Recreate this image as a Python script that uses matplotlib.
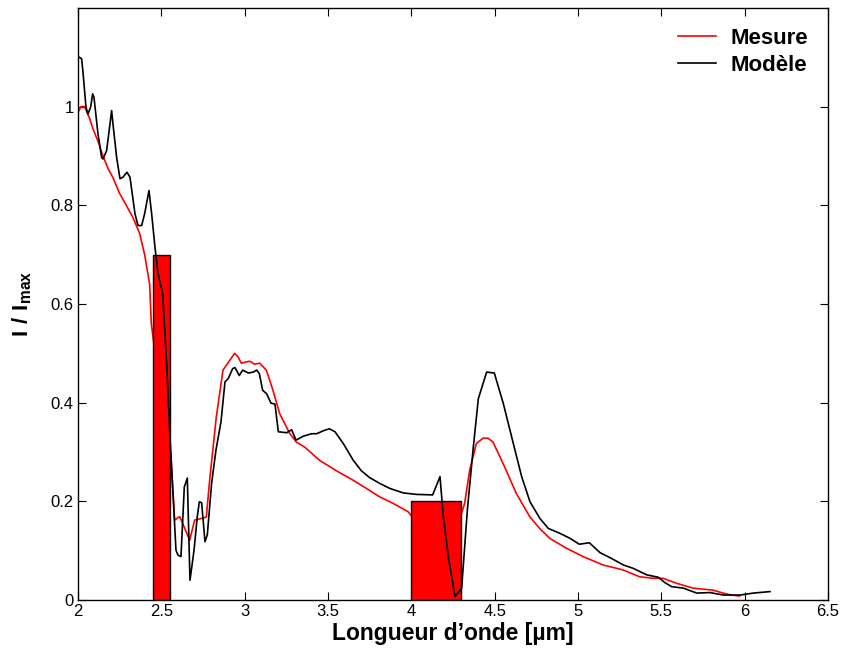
import numpy as np
import matplotlib
matplotlib.use("Agg")
import matplotlib.pyplot as plt

plt.rcParams['font.family'] = ['Liberation Sans', 'DejaVu Sans']
plt.rcParams['mathtext.fontset'] = 'custom'
plt.rcParams['mathtext.rm'] = 'Liberation Sans'
plt.rcParams['mathtext.bf'] = 'Liberation Sans:bold'

# Mesure (red curve)
x_mes = [2.006, 2.018, 2.04, 2.07, 2.09, 2.12, 2.15, 2.18, 2.21, 2.25, 2.29, 2.33,
         2.37, 2.40, 2.43, 2.44, 2.50, 2.556, 2.58, 2.61, 2.62, 2.67, 2.70, 2.75,
         2.77, 2.79, 2.83, 2.87, 2.94, 2.96, 2.98, 3.03, 3.06, 3.09, 3.13, 3.17,
         3.21, 3.27, 3.31, 3.36, 3.45, 3.55, 3.65, 3.75, 3.81, 3.89, 3.98, 4.05,
         4.15, 4.25, 4.32, 4.35, 4.39, 4.43, 4.46, 4.49, 4.55, 4.63, 4.71, 4.77,
         4.83, 4.93, 5.03, 5.15, 5.27, 5.37, 5.45, 5.51, 5.59, 5.69, 5.81, 5.87,
         5.92, 5.97]
y_mes = [0.992, 1.0, 1.0, 0.976, 0.955, 0.93, 0.90, 0.875, 0.856, 0.824, 0.80, 0.775,
         0.743, 0.70, 0.64, 0.56, 0.40, 0.30, 0.162, 0.169, 0.162, 0.121, 0.162, 0.166,
         0.168, 0.243, 0.371, 0.466, 0.50, 0.493, 0.48, 0.484, 0.478, 0.48, 0.466, 0.425,
         0.378, 0.338, 0.32, 0.31, 0.283, 0.262, 0.243, 0.222, 0.209, 0.196, 0.179, 0.15,
         0.10, 0.12, 0.196, 0.263, 0.317, 0.328, 0.328, 0.32, 0.277, 0.216, 0.169, 0.145,
         0.125, 0.105, 0.088, 0.071, 0.061, 0.047, 0.044, 0.044, 0.034, 0.024, 0.020, 0.014,
         0.010, 0.008]

# Modele (black curve)
x_mod = [2.008, 2.022, 2.03, 2.048, 2.06, 2.076, 2.088, 2.096, 2.12, 2.142, 2.15,
         2.172, 2.202, 2.21, 2.232, 2.252, 2.27, 2.294, 2.312, 2.342, 2.36, 2.382,
         2.40, 2.426, 2.442, 2.462, 2.48, 2.508, 2.532, 2.552, 2.57, 2.588, 2.60,
         2.618, 2.638, 2.656, 2.672, 2.696, 2.716, 2.728, 2.742, 2.762, 2.776,
         2.802, 2.828, 2.858, 2.882, 2.902, 2.928, 2.942, 2.968, 2.988, 3.022,
         3.052, 3.072, 3.088, 3.108, 3.132, 3.158, 3.182, 3.202, 3.252, 3.282,
         3.308, 3.352, 3.402, 3.432, 3.472, 3.508, 3.542, 3.592, 3.652, 3.70,
         3.75, 3.812, 3.872, 3.952, 4.032, 4.128, 4.172, 4.192, 4.222, 4.262,
         4.302, 4.336, 4.372, 4.402, 4.452, 4.498, 4.552, 4.612, 4.662, 4.712,
         4.772, 4.822, 4.892, 4.952, 5.008, 5.068, 5.132, 5.202, 5.272, 5.332,
         5.412, 5.482, 5.522, 5.562, 5.632, 5.712, 5.792, 5.872, 5.972, 6.052,
         6.152]
y_mod = [1.10, 1.097, 1.07, 0.999, 0.985, 0.999, 1.026, 1.019, 0.945, 0.897, 0.894,
         0.911, 0.992, 0.965, 0.897, 0.854, 0.857, 0.867, 0.857, 0.783, 0.759, 0.759,
         0.783, 0.830, 0.783, 0.715, 0.662, 0.621, 0.48, 0.33, 0.216, 0.101, 0.091,
         0.088, 0.229, 0.247, 0.04, 0.10, 0.169, 0.199, 0.197, 0.118, 0.132,
         0.237, 0.304, 0.361, 0.442, 0.449, 0.469, 0.471, 0.455, 0.466, 0.46,
         0.462, 0.466, 0.459, 0.425, 0.418, 0.399, 0.397, 0.341, 0.339, 0.345,
         0.324, 0.332, 0.337, 0.337, 0.343, 0.347, 0.341, 0.317, 0.283, 0.262,
         0.248, 0.236, 0.226, 0.217, 0.214, 0.213, 0.25, 0.169, 0.088, 0.007,
         0.024, 0.182, 0.31, 0.408, 0.462, 0.46, 0.398, 0.317, 0.25, 0.199,
         0.165, 0.145, 0.135, 0.125, 0.113, 0.116, 0.096, 0.084, 0.071, 0.064,
         0.051, 0.046, 0.035, 0.027, 0.024, 0.014, 0.015, 0.010, 0.010, 0.014,
         0.017]

# absorption bands
band_start = [2.45, 4.0]
band_width = [0.10, 0.30]
band_height = [0.70, 0.20]

fig = plt.figure(figsize=(8.42, 6.54), dpi=100)
ax = fig.add_axes([0.0926, 0.0826, 0.8908, 0.9052])

ax.plot(x_mes, y_mes, color='red', lw=1.2, label='Mesure', zorder=2)
ax.bar(band_start, band_height, width=band_width, align='edge',
       color='red', edgecolor='black', linewidth=1.0, zorder=3)
ax.plot(x_mod, y_mod, color='black', lw=1.2, label='Modèle', zorder=4)

ax.set_xlim(2, 6.5)
ax.set_ylim(0, 1.2)
ax.set_xticks([2, 2.5, 3, 3.5, 4, 4.5, 5, 5.5, 6, 6.5])
ax.set_xticklabels(['2', '2.5', '3', '3.5', '4', '4.5', '5', '5.5', '6', '6.5'])
ax.set_yticks([0, 0.2, 0.4, 0.6, 0.8, 1])
ax.set_yticklabels(['0', '0.2', '0.4', '0.6', '0.8', '1'])
ax.tick_params(direction='in', top=True, right=True, length=5.5, width=0.8,
               labelsize=12, pad=3)
for s in ax.spines.values():
    s.set_linewidth(1.0)

ax.set_xlabel('Longueur d\u2019onde [\u00b5m]', fontsize=16.5, fontweight='bold', labelpad=2)
ax.set_ylabel(r'$\mathbf{I\ /\ I_{max}}$', fontsize=16, labelpad=12)

leg = ax.legend(loc='upper right', frameon=False, handlelength=1.7,
                handletextpad=0.65, prop={'weight': 'bold', 'size': 16},
                borderaxespad=0.5, labelspacing=0.25)

fig.savefig('out.png', dpi=100)
